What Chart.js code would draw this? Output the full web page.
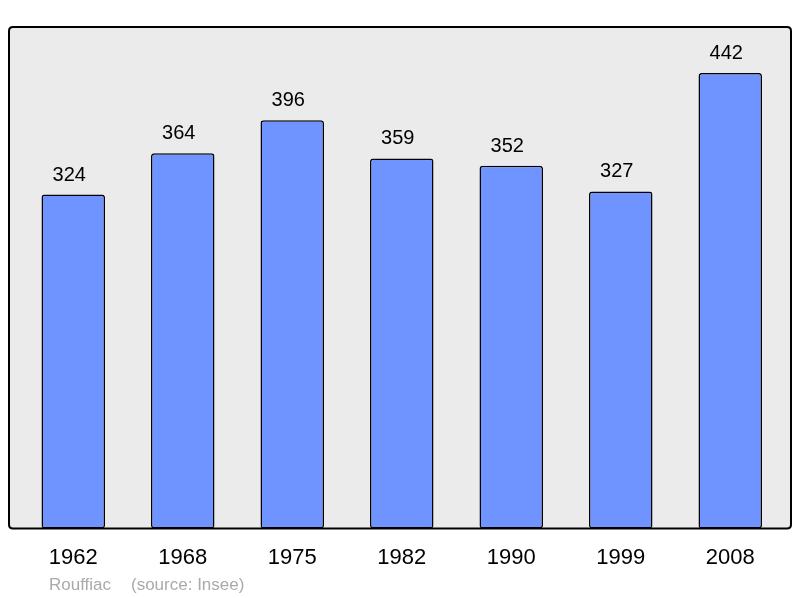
<!DOCTYPE html>
<html>
<head>
<meta charset="utf-8">
<script src="https://cdn.jsdelivr.net/npm/chart.js@4"></script>
<style>
  html, body { margin: 0; padding: 0; background: #ffffff; }
  #wrap { width: 800px; height: 598px; position: relative; }
</style>
</head>
<body>
<div id="wrap"><canvas id="popChart" width="800" height="598"></canvas></div>
<script>
// Population figures.
const years = ["1962", "1968", "1975", "1982", "1990", "1999", "2008"];
const population = [324, 364, 396, 359, 352, 327, 442];
const townName = "Rouffiac";
const sourceNote = "(source: Insee)";

const FONT = "'Liberation Sans', Arial, sans-serif";

// Grey panel behind the bars, border drawn on top afterwards.
function panelPath(ctx, x, y, w, h, r) {
  ctx.beginPath();
  ctx.moveTo(x + r, y);
  ctx.lineTo(x + w - r, y);
  ctx.quadraticCurveTo(x + w, y, x + w, y + r);
  ctx.lineTo(x + w, y + h - r);
  ctx.quadraticCurveTo(x + w, y + h, x + w - r, y + h);
  ctx.lineTo(x + r, y + h);
  ctx.quadraticCurveTo(x, y + h, x, y + h - r);
  ctx.lineTo(x, y + r);
  ctx.quadraticCurveTo(x, y, x + r, y);
  ctx.closePath();
}

const panelPlugin = {
  id: "panel",
  beforeDatasetsDraw(chart) {
    const { ctx, chartArea } = chart;
    ctx.save();
    panelPath(ctx, 9, chartArea.top, 782, chartArea.bottom - chartArea.top, 4);
    ctx.fillStyle = "#ebebeb";
    ctx.fill();
    ctx.restore();
  },
  afterDatasetsDraw(chart) {
    const { ctx, chartArea } = chart;
    ctx.save();
    panelPath(ctx, 9, chartArea.top, 782, chartArea.bottom - chartArea.top, 4);
    ctx.lineWidth = 2;
    ctx.strokeStyle = "#000000";
    ctx.stroke();

    // value labels above each bar (sit a little left of centre in the original)
    ctx.fillStyle = "#000000";
    ctx.font = "20px " + FONT;
    ctx.textAlign = "center";
    ctx.textBaseline = "alphabetic";
    chart.getDatasetMeta(0).data.forEach((bar, i) => {
      ctx.fillText(String(population[i]), bar.x - 4, bar.y - 14);
    });

    // footer
    ctx.fillStyle = "#aaaaaa";
    ctx.font = "17px " + FONT;
    ctx.textAlign = "left";
    ctx.fillText(townName, 49, 590);
    ctx.fillText(sourceNote, 131, 590);
    ctx.restore();
  }
};

new Chart(document.getElementById("popChart"), {
  type: "bar",
  data: {
    labels: years,
    datasets: [{
      data: population,
      backgroundColor: "#7094ff",
      borderColor: "#000000",
      borderWidth: 1.5,
      borderRadius: 3,
      borderSkipped: false,
      barPercentage: 0.58,
      categoryPercentage: 1.0
    }]
  },
  options: {
    responsive: false,
    animation: false,
    layout: { padding: { left: 18.5, right: 15, top: 27, bottom: 19 } },
    plugins: {
      legend: { display: false },
      tooltip: { enabled: false }
    },
    scales: {
      x: {
        grid: { display: false },
        border: { display: false },
        ticks: {
          color: "#000000",
          font: { family: FONT, size: 22 },
          padding: 8
        }
      },
      y: {
        display: false,
        min: 0,
        max: 486.5
      }
    }
  },
  plugins: [panelPlugin]
});
</script>
</body>
</html>
